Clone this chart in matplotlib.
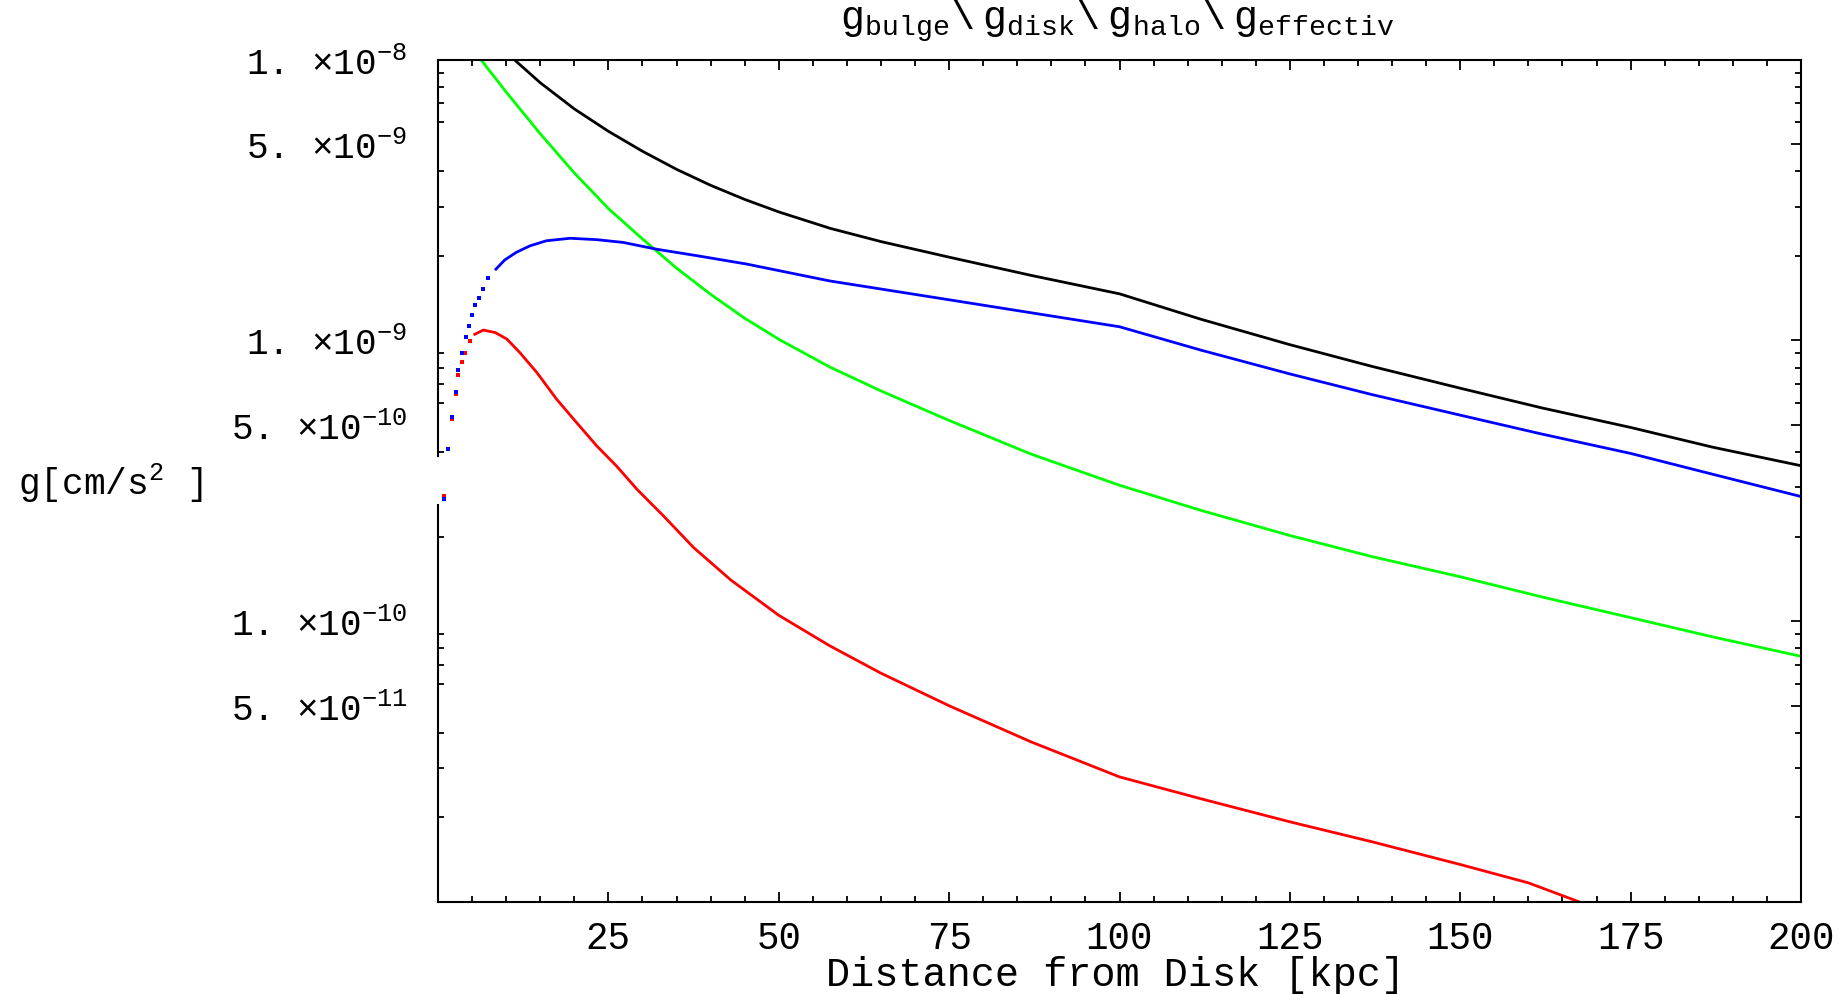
import numpy as np
import matplotlib
matplotlib.use("Agg")
import matplotlib.pyplot as plt
from matplotlib.ticker import FixedLocator, FixedFormatter, NullFormatter

plt.rcParams['font.family'] = 'Liberation Mono'
plt.rcParams['mathtext.fontset'] = 'custom'
plt.rcParams['mathtext.rm'] = 'Liberation Mono'
plt.rcParams['mathtext.it'] = 'Liberation Mono'
plt.rcParams['mathtext.tt'] = 'Liberation Mono'

# --- data (distance in kpc, g in cm/s^2) ---
x_halo = [0.93, 1.5, 2.1, 2.64, 2.98, 3.57, 4.1, 4.6, 4.94, 5.43, 6.0, 6.56, 7.38, 8.5,
          9.8, 11.5, 13.5, 15.9, 19.4, 23.3, 27.2, 32.1, 38, 45.3, 52.6, 57.5, 75,
          100, 112, 125, 137, 150, 162, 175, 187, 200]
g_halo = [2.72e-10, 4.10e-10, 5.36e-10, 6.56e-10, 7.83e-10, 9.02e-10, 1.026e-9, 1.122e-9,
          1.233e-9, 1.337e-9, 1.422e-9, 1.524e-9, 1.663e-9, 1.795e-9, 1.936e-9, 2.061e-9,
          2.173e-9, 2.265e-9, 2.312e-9, 2.286e-9, 2.234e-9, 2.113e-9, 2.004e-9, 1.871e-9,
          1.722e-9, 1.629e-9, 1.396e-9, 1.119e-9, 9.23e-10, 7.60e-10, 6.42e-10, 5.42e-10,
          4.64e-10, 3.96e-10, 3.34e-10, 2.78e-10]

x_disk = [0.93, 1.5, 2.1, 2.64, 2.98, 3.5, 3.96, 4.7, 5.4, 6.65, 8.4, 10.1, 12.0, 14.5,
          17.4, 20.3, 23.3, 26.2, 29.2, 33.1, 37.5, 43, 50, 57.5, 65, 75, 87, 100, 112,
          125, 137, 150, 160, 167.5]
g_disk = [2.79e-10, 4.12e-10, 5.25e-10, 6.46e-10, 7.52e-10, 8.39e-10, 9.02e-10, 9.98e-10,
          1.052e-9, 1.089e-9, 1.067e-9, 1.012e-9, 9.06e-10, 7.69e-10, 6.18e-10, 5.11e-10,
          4.21e-10, 3.57e-10, 2.95e-10, 2.37e-10, 1.83e-10, 1.40e-10, 1.05e-10, 8.17e-11,
          6.53e-11, 5.0e-11, 3.72e-11, 2.79e-11, 2.33e-11, 1.93e-11, 1.64e-11, 1.36e-11,
          1.17e-11, 1.0e-11]

x_bulge = [6.3, 10, 15, 20, 25, 30, 35, 40, 45, 50, 57.5, 65, 75, 87, 100, 112, 125,
           137, 150, 162, 175, 187, 200]
g_bulge = [1.0e-8, 7.67e-9, 5.45e-9, 3.95e-9, 2.95e-9, 2.30e-9, 1.81e-9, 1.46e-9, 1.20e-9,
           1.01e-9, 8.04e-10, 6.61e-10, 5.19e-10, 3.94e-10, 3.05e-10, 2.48e-10, 2.02e-10,
           1.70e-10, 1.44e-10, 1.22e-10, 1.03e-10, 8.8e-11, 7.5e-11]

x_eff = [11.2, 15, 20, 25, 30, 35, 40, 45, 50, 57.5, 65, 75, 87, 100, 112, 125, 137,
         150, 162, 175, 187, 200]
g_eff = [1.0e-8, 8.28e-9, 6.68e-9, 5.56e-9, 4.72e-9, 4.07e-9, 3.57e-9, 3.18e-9, 2.87e-9,
         2.51e-9, 2.25e-9, 1.98e-9, 1.706e-9, 1.466e-9, 1.189e-9, 9.66e-10, 8.09e-10,
         6.76e-10, 5.75e-10, 4.90e-10, 4.17e-10, 3.58e-10]

x_ticks = [0, 25, 50, 75, 100, 125, 150, 175, 200]
x_ticklabels = ['', '25', '50', '75', '100', '125', '150', '175', '200']
y_ticks = [5e-11, 1e-10, 5e-10, 1e-9, 5e-9, 1e-8]
y_ticklabels = ['5. ×10$^{-11}$', '1. ×10$^{-10}$', '5. ×10$^{-10}$',
                '1. ×10$^{-9}$', '5. ×10$^{-9}$', '1. ×10$^{-8}$']

W, H = 1848, 995
fig = plt.figure(figsize=(W / 100, H / 100), dpi=100)
ax = fig.add_axes([438 / W, 1 - 903 / H, 1363 / W, (903 - 60.7) / H])
ax.set_yscale('log')
ax.set_xlim(0, 200)
ax.set_ylim(1e-11, 1e-8)


def draw(x, g, color, dot_until):
    x = np.array(x)
    g = np.array(g)
    near = x < dot_until
    ax.plot(x[near], g[near], 's', color=color, ms=2.6, mew=0)
    ax.plot(x[~near], g[~near], '-', color=color, lw=2.0, solid_joinstyle='round')


draw(x_bulge, g_bulge, (0, 1, 0), 0)
draw(x_disk, g_disk, (1, 0, 0), 5.0)
draw(x_halo, g_halo, (0, 0, 1), 8.0)
draw(x_eff, g_eff, 'black', 0)

# --- axes styling (Mathematica-like frame) ---
for s in ax.spines.values():
    s.set_linewidth(1.5)
ax.spines['left'].set_bounds(1e-11, 2.6e-10)
ax.axvline(0, ymin=0.529, ymax=1, color='black', lw=1.5, clip_on=False)

minor_all = [k * 10.0 ** e for e in (-11, -10, -9) for k in (2, 3, 4, 6, 7, 8, 9)]
minor_left = [v for v in minor_all if abs(v - 3e-10) > 1e-13]

ax.yaxis.set_major_locator(FixedLocator(y_ticks))
ax.yaxis.set_major_formatter(FixedFormatter(y_ticklabels))
ax.yaxis.set_minor_locator(FixedLocator(minor_left))
ax.yaxis.set_minor_formatter(NullFormatter())
ax.tick_params(axis='y', which='major', direction='in', length=0, pad=22,
               labelsize=26, left=True, right=False)
ax.tick_params(axis='y', which='minor', direction='in', length=4.3, width=1.3,
               left=True, right=False)

ax.xaxis.set_major_locator(FixedLocator(x_ticks))
ax.xaxis.set_major_formatter(FixedFormatter(x_ticklabels))
ax.xaxis.set_minor_locator(FixedLocator(np.arange(0, 201, 5)))
ax.tick_params(axis='x', which='major', direction='in', length=7, width=1.3,
               top=True, bottom=True, pad=13, labelsize=27)
ax.tick_params(axis='x', which='minor', direction='in', length=4.3, width=1.3,
               top=True, bottom=True)

tw = ax.twinx()
tw.set_yscale('log')
tw.set_ylim(1e-11, 1e-8)
for s in tw.spines.values():
    s.set_visible(False)
tw.yaxis.set_major_locator(FixedLocator(y_ticks))
tw.yaxis.set_minor_locator(FixedLocator(minor_all))
tw.yaxis.set_major_formatter(NullFormatter())
tw.yaxis.set_minor_formatter(NullFormatter())
tw.tick_params(axis='y', which='major', direction='in', length=7, width=1.3)
tw.tick_params(axis='y', which='minor', direction='in', length=4.3, width=1.3)

# --- texts ---
title = (r'$\mathtt{g_{bulge}\backslash\ g_{disk}\backslash\ g_{halo}'
         r'\backslash\ g_{effectiv}}$')
fig.text(1117 / W, 1 - 22 / H, title, ha='center', va='center', fontsize=29)
fig.text(18 / W, 1 - 483 / H, 'g[cm/s$^{2}$ ]', ha='left', va='center', fontsize=26)
fig.text(1116 / W, 1 - 975 / H, 'Distance from Disk [kpc]', ha='center', va='center',
         fontsize=29)

fig.savefig('out.png', dpi=100)
